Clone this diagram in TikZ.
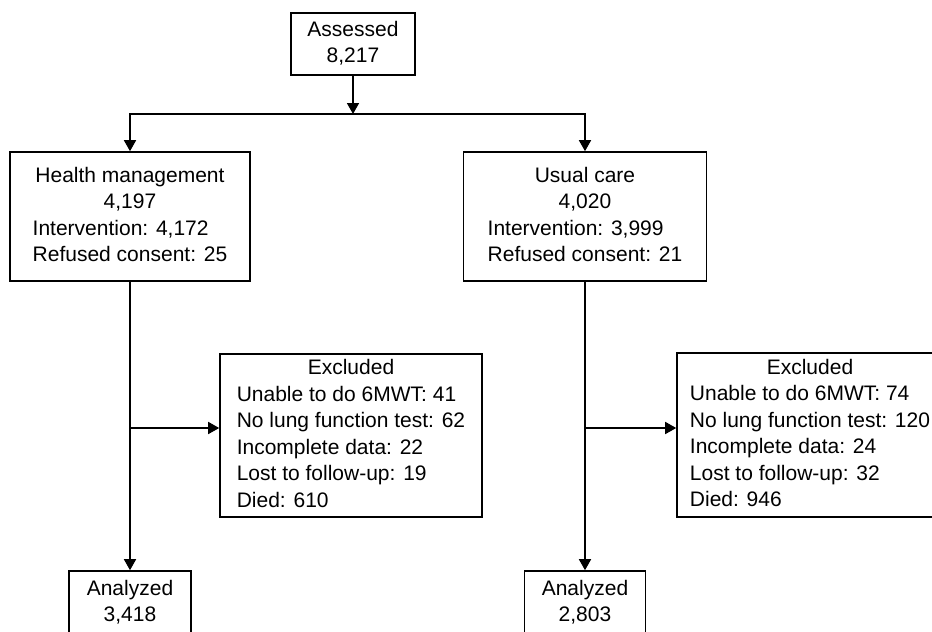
\documentclass[tikz,border=0pt]{standalone}
\usepackage{fontspec}
\setmainfont{Liberation Sans}
\usetikzlibrary{arrows.meta}

\begin{document}
\begin{tikzpicture}[x=1pt,y=-1pt,>={Triangle[width=12pt,length=11pt]},line width=1.6pt]
\tikzstyle{box}=[draw,inner sep=0pt,font=\fontsize{21}{26.5}\selectfont]
\useasboundingbox (0,0) rectangle (932,632);
\clip (0,0) rectangle (932,632);
\node[box,minimum width=124pt,minimum height=62pt] (assess) at (353,44)
  {\begin{tabular}{@{}c@{}}Assessed\\8,217\end{tabular}};
\node[box,minimum width=240pt,minimum height=129pt] (health) at (130,216.5)
  {\begin{tabular}{@{}l@{}}\multicolumn{1}{@{}c@{}}{Health management}\\
   \multicolumn{1}{@{}c@{}}{4,197}\\Intervention: 4,172\\Refused consent: 25\end{tabular}};
\node[box,minimum width=243pt,minimum height=129pt] (usual) at (585,216.5)
  {\begin{tabular}{@{}l@{}}\multicolumn{1}{@{}c@{}}{Usual care}\\
   \multicolumn{1}{@{}c@{}}{4,020}\\Intervention: 3,999\\Refused consent: 21\end{tabular}};
\node[box,minimum width=262pt,minimum height=163pt] (exclH) at (351,435.5)
  {\begin{tabular}{@{}l@{}}\multicolumn{1}{@{}c@{}}{Excluded}\\
   Unable to do 6MWT: 41\\No lung function test: 62\\Incomplete data: 22\\
   Lost to follow-up: 19\\Died: 610\end{tabular}};
\node[box,minimum width=266pt,minimum height=164pt] (exclU) at (810,435)
  {\begin{tabular}{@{}l@{}}\multicolumn{1}{@{}c@{}}{Excluded}\\
   Unable to do 6MWT: 74\\No lung function test: 120\\Incomplete data: 24\\
   Lost to follow-up: 32\\Died: 946\end{tabular}};
\node[box,minimum width=122pt,minimum height=64pt] (anaH) at (130,603)
  {\begin{tabular}{@{}c@{}}Analyzed\\3,418\end{tabular}};
\node[box,minimum width=121pt,minimum height=64pt] (anaU) at (585,603)
  {\begin{tabular}{@{}c@{}}Analyzed\\2,803\end{tabular}};
% split below assessed
\coordinate (split) at (353,114);
\draw[->] (assess) -- (split);
\draw[->] (split) -| (health);
\draw[->] (split) -| (usual);
% arms
\draw[->] (health) -- (anaH);
\draw[->] (usual) -- (anaU);
\coordinate (outH) at (130,428);
\coordinate (outU) at (585,428);
\draw[->] (outH) -- (outH -| exclH.west);
\draw[->] (outU) -- (outU -| exclU.west);
\end{tikzpicture}
\end{document}
